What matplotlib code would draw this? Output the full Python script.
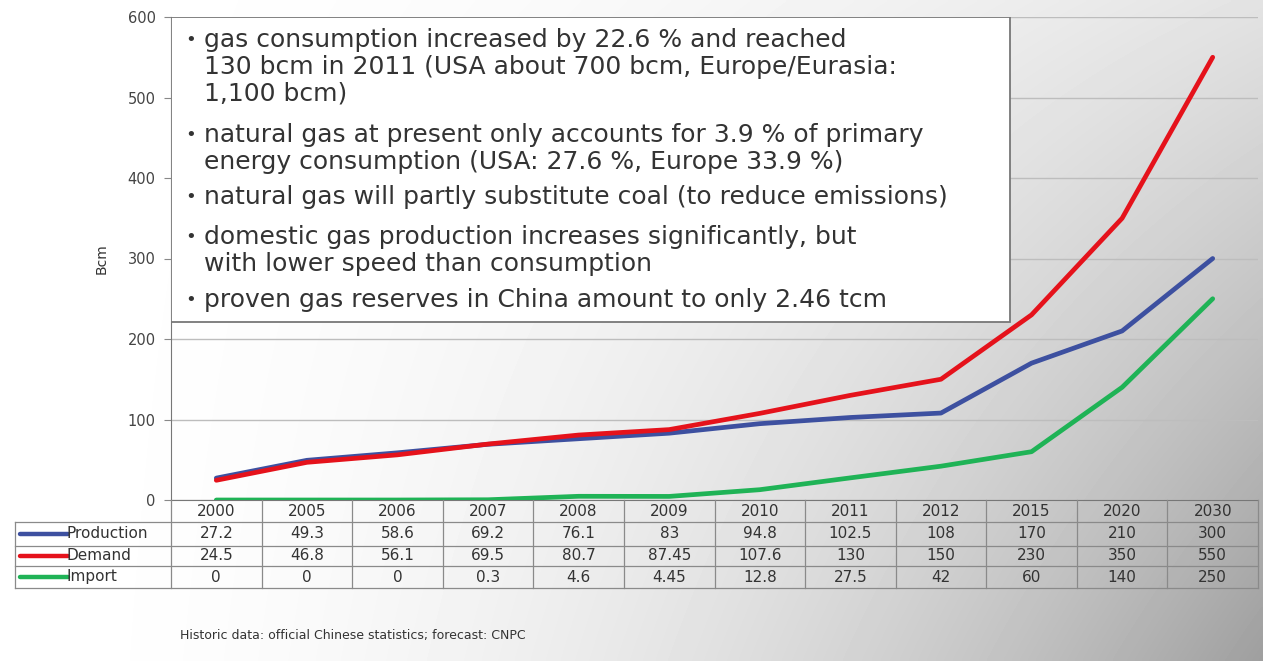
import numpy as np
import matplotlib.pyplot as plt
import matplotlib.transforms as mtransforms
from matplotlib.patches import Rectangle
from matplotlib.lines import Line2D

plt.rcParams['font.family'] = ['DejaVu Sans']

years = ['2000', '2005', '2006', '2007', '2008', '2009', '2010',
         '2011', '2012', '2015', '2020', '2030']
production = [27.2, 49.3, 58.6, 69.2, 76.1, 83, 94.8, 102.5, 108, 170, 210, 300]
demand = [24.5, 46.8, 56.1, 69.5, 80.7, 87.45, 107.6, 130, 150, 230, 350, 550]
imports = [0, 0, 0, 0.3, 4.6, 4.45, 12.8, 27.5, 42, 60, 140, 250]

series = [('Production', production, '#3d50a0'),
          ('Demand', demand, '#e5121b'),
          ('Import', imports, '#1fb356')]

notes = [
    ['gas consumption increased by 22.6 % and reached',
     '130 bcm in 2011 (USA about 700 bcm, Europe/Eurasia:',
     '1,100 bcm)'],
    ['natural gas at present only accounts for 3.9 % of primary',
     'energy consumption (USA: 27.6 %, Europe 33.9 %)'],
    ['natural gas will partly substitute coal (to reduce emissions)'],
    ['domestic gas production increases significantly, but',
     'with lower speed than consumption'],
    ['proven gas reserves in China amount to only 2.46 tcm'],
]
# y pixel of first line of each note
note_y = [40, 135, 197, 237, 300]

W, H = 1263, 661
fig = plt.figure(figsize=(W / 100, H / 100), dpi=100)

# background gradient, white at left -> grey at lower right
bg = fig.add_axes([0, 0, 1, 1], zorder=-10)
xx, yy = np.meshgrid(np.linspace(0, 1, 400), np.linspace(0, 1, 200))
g = 1 - (xx / 0.95) ** 2 * (0.10 + 0.24 * yy)
bg.imshow(g, cmap='gray', vmin=0, vmax=1, aspect='auto', extent=[0, 1, 0, 1],
          origin='upper', interpolation='bilinear')
bg.set_axis_off()


def px(x):
    return x / W


def py(y):
    return 1 - y / H


ax_l, ax_r, ax_t, ax_b = 171, 1258, 17, 500
ax = fig.add_axes([px(ax_l), py(ax_b), px(ax_r - ax_l), (ax_b - ax_t) / H])
ax.patch.set_alpha(0)

x = np.arange(len(years))
for name, vals, col in series:
    ax.plot(x, vals, color=col, lw=3.4, solid_joinstyle='round',
            solid_capstyle='round', zorder=3)

ax.set_xlim(-0.5, len(years) - 0.5)
ax.set_ylim(0, 600)
ax.set_yticks(np.arange(0, 601, 100))
ax.set_xticks([])
ax.grid(axis='y', color='#bdbdbd', lw=1.0, zorder=0)
ax.tick_params(axis='y', length=5, color='#888888', labelsize=10.5,
               labelcolor='#444444', pad=6)
for s in ['top', 'right']:
    ax.spines[s].set_visible(False)
ax.spines['left'].set_color('#777777')
ax.spines['bottom'].set_color('#777777')
ax.set_ylabel('Bcm', fontsize=10, color='#333333', labelpad=14)

# text box
bx0 = 0
bx1 = (1010 - ax_l) / (ax_r - ax_l)
by0 = (ax_b - 322) / (ax_b - ax_t)
ax.add_patch(Rectangle((bx0, by0), bx1 - bx0, 1 - by0, transform=ax.transAxes,
                       facecolor='white', edgecolor='#777777', lw=1.3, zorder=4))
for lines, y0 in zip(notes, note_y):
    fig.text(px(185), py(y0), '\u2022', fontsize=13, color='#333333',
             va='center', ha='left', zorder=5)
    for k, line in enumerate(lines):
        fig.text(px(204), py(y0 + 27 * k), line, fontsize=18,
                 color='#333333', va='center', ha='left', zorder=5)

# data table under the axis
tr = mtransforms.blended_transform_factory(ax.transData, fig.transFigure)
row_edges = [500, 522, 546, 566, 588]
tcol = '#8a8a8a'
for i in range(len(years) + 1):
    fig.add_artist(Line2D([i - 0.5, i - 0.5], [py(row_edges[0]), py(row_edges[-1])],
                          transform=tr, color=tcol, lw=0.9))
for r in row_edges[1:]:
    fig.add_artist(Line2D([px(15), px(ax_r)], [py(r), py(r)],
                          transform=fig.transFigure, color=tcol, lw=0.9))
fig.add_artist(Line2D([px(15), px(15)], [py(row_edges[1]), py(row_edges[-1])],
                      transform=fig.transFigure, color=tcol, lw=0.9))

for i, yr in enumerate(years):
    fig.text(i, py((row_edges[0] + row_edges[1]) / 2), yr, transform=tr,
             ha='center', va='center', fontsize=11, color='#333333')
for j, (name, vals, col) in enumerate(series):
    yc = py((row_edges[j + 1] + row_edges[j + 2]) / 2)
    fig.add_artist(Line2D([px(20), px(68)], [yc, yc], transform=fig.transFigure,
                          color=col, lw=3.2, solid_capstyle='round'))
    fig.text(px(67), yc, name, ha='left', va='center', fontsize=11,
             color='#333333')
    for i, v in enumerate(vals):
        fig.text(i, yc, '{:g}'.format(v), transform=tr, ha='center',
                 va='center', fontsize=11, color='#333333')

fig.text(px(180), py(636), 'Historic data: official Chinese statistics; forecast: CNPC',
         fontsize=9, color='#333333', ha='left', va='center')

fig.savefig('out.png', dpi=100)
